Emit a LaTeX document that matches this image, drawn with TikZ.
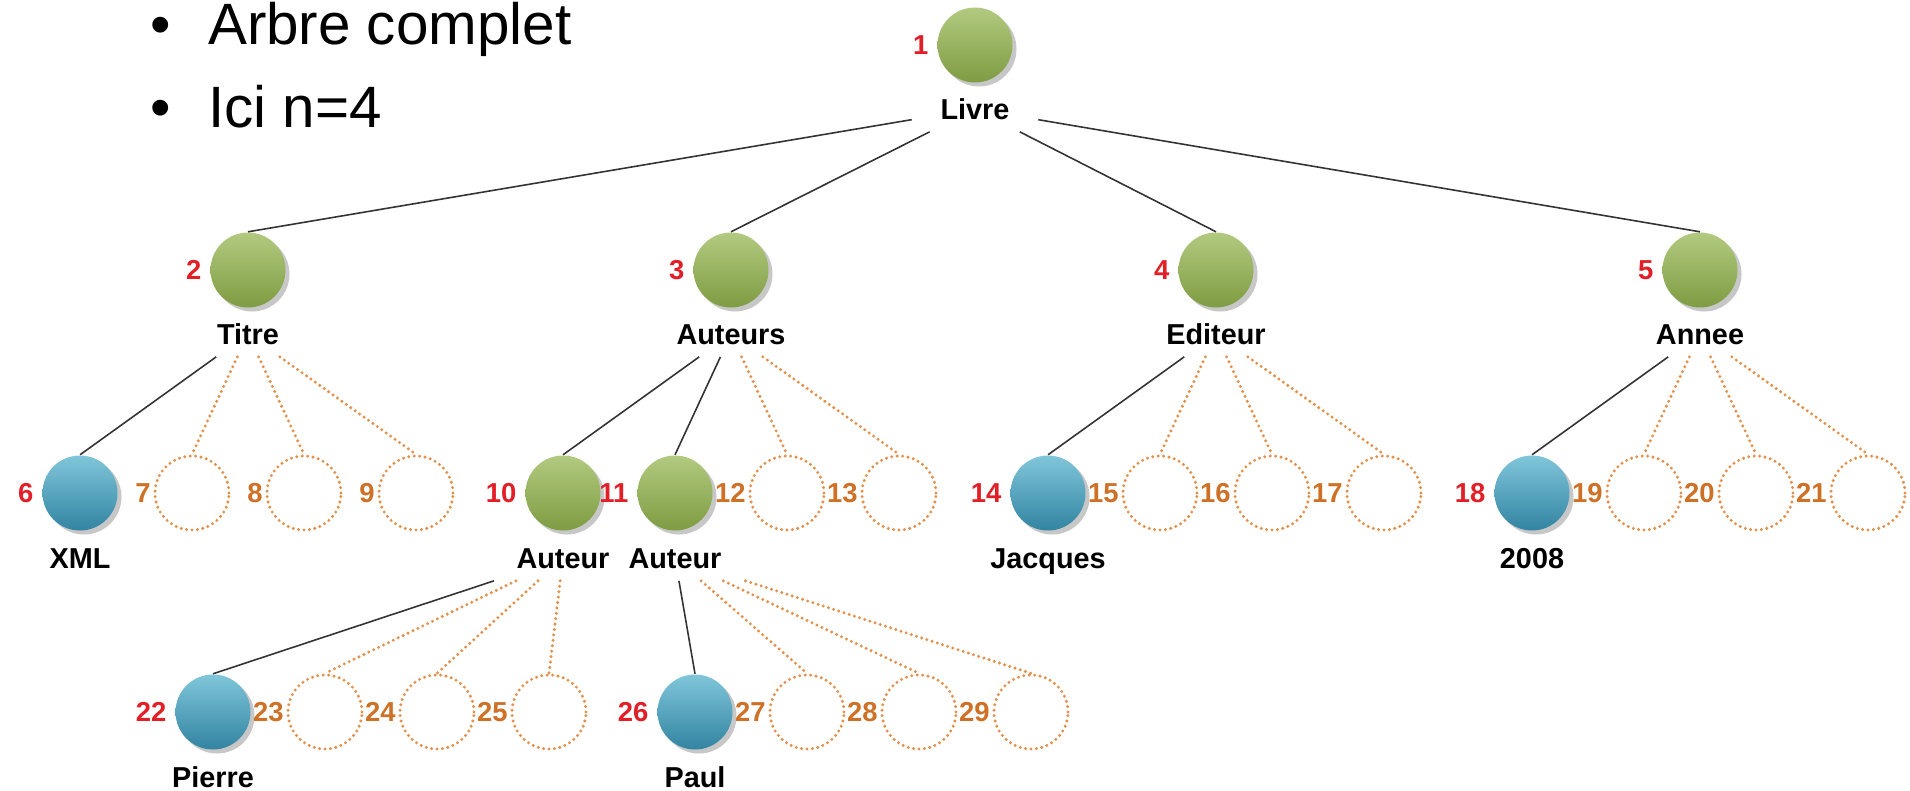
\documentclass[tikz,border=0pt]{standalone}
\usepackage{fontspec}
\setmainfont{Liberation Sans}
\usetikzlibrary{positioning, shadows}

\definecolor{numred}{RGB}{226,30,38}
\definecolor{numorange}{RGB}{206,112,38}
\definecolor{dotorange}{RGB}{226,146,78}
\definecolor{greentop}{RGB}{178,202,128}
\definecolor{greenbot}{RGB}{126,156,66}
\definecolor{bluetop}{RGB}{128,198,218}
\definecolor{bluebot}{RGB}{50,132,162}

\begin{document}
\begin{tikzpicture}[%
    node distance=1.12cm,
    on grid,
    ball/.style={circle, minimum size=0.75cm, inner sep=0pt,
      drop shadow={shadow xshift=0.4mm, shadow yshift=-0.4mm, fill=black!22, opacity=1}},
    inner/.style={ball, top color=greentop, bottom color=greenbot},
    leaf/.style={ball, top color=bluetop, bottom color=bluebot},
    dots/.style={draw=dotorange, line width=0.95pt, line cap=round, dash pattern=on 0pt off 1.55pt},
    void/.style={circle, minimum size=0.74cm, inner sep=0pt, dots},
    tag/.style={font=\bfseries\fontsize{8.2}{8}\selectfont, text height=5.8pt, text depth=0pt,
      inner xsep=8pt, inner ysep=3.4pt},
    num/.style={font=\bfseries\fontsize{7.8}{7.8}\selectfont, text=numred, inner sep=2.2pt},
    vnum/.style={num, text=numorange, inner sep=0.6pt},
    link/.style={draw=black!80, line width=0.45pt},
    stub/.style={dots}
  ]
  \useasboundingbox (0,0) rectangle (19.10,-7.91);

  % bullet points
  \node[anchor=base west, inner sep=0pt, font=\fontsize{16.6}{20}\selectfont] (p1) at (1.50,-0.44) {\textbullet\hspace{0.37cm}Arbre complet};
  \node[anchor=base west, inner sep=0pt, font=\fontsize{16.6}{20}\selectfont] (p2) at (1.50,-1.27) {\textbullet\hspace{0.37cm}Ici n=4};

  % root and first level
  \node[inner, label={[num]left:1}] (n1) at (9.75,-0.45) {};
  \node[inner, label={[num]left:2}] (n2) at (2.48,-2.70) {};
  \node[inner, label={[num]left:3}] (n3) at (7.31,-2.70) {};
  \node[inner, label={[num]left:4}] (n4) at (12.16,-2.70) {};
  \node[inner, label={[num]left:5}] (n5) at (17.00,-2.70) {};

  % second level
  \node[leaf,  label={[num]left:6}]   (n6)  [below left=2.23cm and 1.68cm of n2] {};
  \node[void,  label={[vnum]left:7}]  (n7)  [right=of n6] {};
  \node[void,  label={[vnum]left:8}]  (n8)  [right=of n7] {};
  \node[void,  label={[vnum]left:9}]  (n9)  [right=of n8] {};

  \node[inner, label={[num]left:10}]  (n10) [below left=2.23cm and 1.68cm of n3] {};
  \node[inner, label={[num]left:11}]  (n11) [right=of n10] {};
  \node[void,  label={[vnum]left:12}] (n12) [right=of n11] {};
  \node[void,  label={[vnum]left:13}] (n13) [right=of n12] {};

  \node[leaf,  label={[num]left:14}]  (n14) [below left=2.23cm and 1.68cm of n4] {};
  \node[void,  label={[vnum]left:15}] (n15) [right=of n14] {};
  \node[void,  label={[vnum]left:16}] (n16) [right=of n15] {};
  \node[void,  label={[vnum]left:17}] (n17) [right=of n16] {};

  \node[leaf,  label={[num]left:18}]  (n18) [below left=2.23cm and 1.68cm of n5] {};
  \node[void,  label={[vnum]left:19}] (n19) [right=of n18] {};
  \node[void,  label={[vnum]left:20}] (n20) [right=of n19] {};
  \node[void,  label={[vnum]left:21}] (n21) [right=of n20] {};

  % third level
  \node[leaf,  label={[num]left:22}]  (n22) [below left=2.19cm and 3.50cm of n10] {};
  \node[void,  label={[vnum]left:23}] (n23) [right=of n22] {};
  \node[void,  label={[vnum]left:24}] (n24) [right=of n23] {};
  \node[void,  label={[vnum]left:25}] (n25) [right=of n24] {};

  \node[leaf,  label={[num]left:26}]  (n26) [below right=2.19cm and 0.20cm of n11] {};
  \node[void,  label={[vnum]left:27}] (n27) [right=of n26] {};
  \node[void,  label={[vnum]left:28}] (n28) [right=of n27] {};
  \node[void,  label={[vnum]left:29}] (n29) [right=of n28] {};

  % names under the filled nodes
  \node[tag] (t1)  [below=0.64cm of n1]  {Livre};
  \node[tag] (t2)  [below=0.64cm of n2]  {Titre};
  \node[tag] (t3)  [below=0.64cm of n3]  {Auteurs};
  \node[tag] (t4)  [below=0.64cm of n4]  {Editeur};
  \node[tag] (t5)  [below=0.64cm of n5]  {Annee};
  \node[tag] (t6)  [below=0.65cm of n6]  {XML};
  \node[tag] (t10) [below=0.65cm of n10] {Auteur};
  \node[tag] (t11) [below=0.65cm of n11] {Auteur};
  \node[tag] (t14) [below=0.65cm of n14] {Jacques};
  \node[tag] (t18) [below=0.65cm of n18] {2008};
  \node[tag] (t22) [below=0.65cm of n22] {Pierre};
  \node[tag] (t26) [below=0.65cm of n26] {Paul};

  \path[link]
              (t1)  edge (n2.north) edge (n3.north) edge (n4.north) edge (n5.north)
              (t2)  edge (n6.north)
              (t3)  edge (n10.north) edge (n11.north)
              (t4)  edge (n14.north)
              (t5)  edge (n18.north)
              (t10) edge (n22.north)
              (t11) edge (n26.north);

  \path[stub]
              (t2)  edge (n7.north)  edge (n8.north)  edge (n9.north)
              (t3)  edge (n12.north) edge (n13.north)
              (t4)  edge (n15.north) edge (n16.north) edge (n17.north)
              (t5)  edge (n19.north) edge (n20.north) edge (n21.north)
              (t10) edge (n23.north) edge (n24.north) edge (n25.north)
              (t11) edge (n27.north) edge (n28.north) edge (n29.north);
\end{tikzpicture}
\end{document}
